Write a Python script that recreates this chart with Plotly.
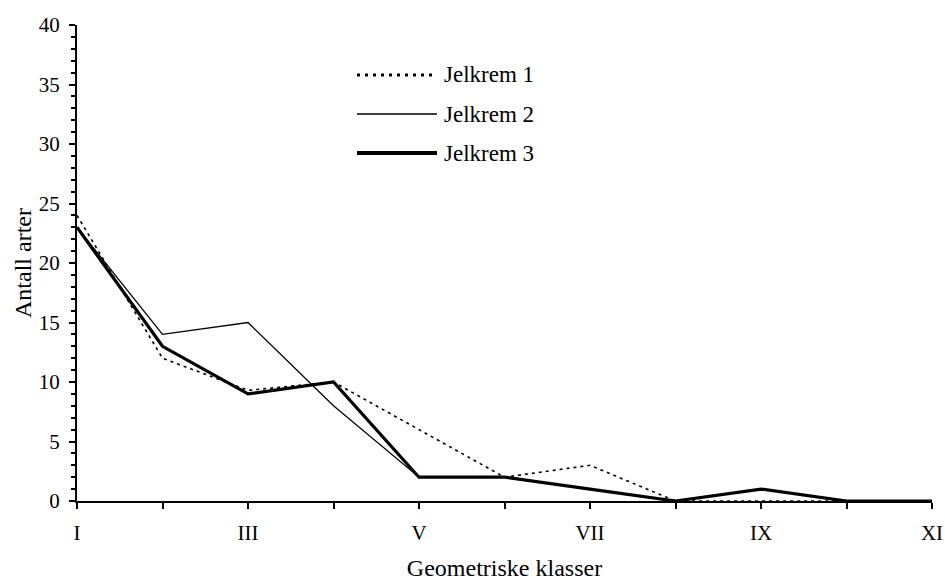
import plotly.graph_objects as go

categories = ["I", "II", "III", "IV", "V", "VI", "VII", "VIII", "IX", "X", "XI"]
tick_labels = ["I", "", "III", "", "V", "", "VII", "", "IX", "", "XI"]
jelkrem1 = [24, 12, 9.3, 10, 6, 2, 3, 0, 0, 0, 0]
jelkrem2 = [23, 14, 15, 8, 2, 2, 1, 0, 1, 0, 0]
jelkrem3 = [23, 13, 9, 10, 2, 2, 1, 0, 1, 0, 0]
series_names = ["Jelkrem 1", "Jelkrem 2", "Jelkrem 3"]
y_ticks = [0, 5, 10, 15, 20, 25, 30, 35, 40]

FONT = "Liberation Serif"

styles = [
    dict(color="black", width=1.6, dash="3px,4px"),
    dict(color="black", width=1.3),
    dict(color="black", width=3.2),
]

fig = go.Figure()
x_idx = list(range(len(categories)))
for name, vals, st in zip(series_names, [jelkrem1, jelkrem2, jelkrem3], styles):
    fig.add_trace(go.Scatter(x=x_idx, y=vals, mode="lines", name=name,
                             line=st, showlegend=False))

W, H = 945, 581
L, R, T, B = 77, 13, 25, 80
pw, ph = W - L - R, H - T - B

def px_to_paper(px, py):
    return (px - L) / pw, (H - B - py) / ph

legend_styles = [
    dict(color="black", width=3, dash="3px,5px"),
    dict(color="black", width=1.5),
    dict(color="black", width=4),
]
legend_rows = [75, 114, 153]
for name, st, py in zip(series_names, legend_styles, legend_rows):
    x0, y0 = px_to_paper(357, py)
    x1, _ = px_to_paper(437, py)
    fig.add_shape(type="line", xref="paper", yref="paper", x0=x0, x1=x1,
                  y0=y0, y1=y0, line=st)
    tx, _ = px_to_paper(442, py)
    fig.add_annotation(xref="paper", yref="paper", x=tx, y=y0, text=name,
                       showarrow=False, xanchor="left", yanchor="middle",
                       font=dict(family=FONT, size=23, color="black"))

fig.update_layout(
    width=W, height=H,
    margin=dict(l=L, r=R, t=T, b=B),
    paper_bgcolor="white", plot_bgcolor="white",
    font=dict(family=FONT, color="black", size=21),
    showlegend=False,
)
fig.update_xaxes(
    range=[0, len(categories) - 1],
    tickmode="array", tickvals=x_idx, ticktext=tick_labels,
    ticks="outside", ticklen=6, tickwidth=1.5, tickcolor="black",
    showline=True, linecolor="black", linewidth=2,
    showgrid=False, zeroline=False, automargin=False,
    tickfont=dict(family=FONT, size=21),
    ticklabelstandoff=6,
    title=dict(text="Geometriske klasser", font=dict(family=FONT, size=24), standoff=24),
)
fig.update_yaxes(
    range=[0, 40],
    tickmode="array", tickvals=y_ticks,
    ticks="outside", ticklen=6, tickwidth=1.5, tickcolor="black",
    minor=dict(dtick=1, ticks="outside", ticklen=4, tickwidth=1.5, tickcolor="black", showgrid=False),
    showline=True, linecolor="black", linewidth=2,
    showgrid=False, zeroline=False, automargin=False,
    tickfont=dict(family=FONT, size=21),
    ticklabelstandoff=5,
    title=dict(text="Antall arter", font=dict(family=FONT, size=24), standoff=0),
)

fig.write_html("out.html")
